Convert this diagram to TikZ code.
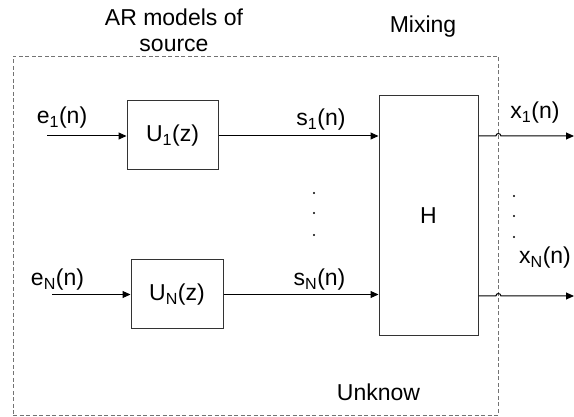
\documentclass[tikz,border=0pt]{standalone}
\usepackage{fontspec}
\setmainfont{Liberation Sans}
\usetikzlibrary{arrows.meta,calc}
\newcommand{\sbs}[1]{\textsubscript{#1}}
\begin{document}
\begin{tikzpicture}[x=1pt,y=-1pt,
  every node/.style={font=\fontsize{23}{26}\selectfont, inner sep=0pt},
  blockbox/.style={draw=black!80, line width=1pt, fill=white},
  sig/.style={line width=1pt, -{Triangle[length=8pt,width=7pt]}},
  frame/.style={draw=black!55, line width=0.8pt, dash pattern=on 4pt off 2.5pt},
  lbl/.style={anchor=center}]
\useasboundingbox (0,0) rectangle (574,417);
% dashed frame
\node[frame, minimum width=485pt, minimum height=359pt] (frm) at (255.5,235.5) {};
% blocks
\node[blockbox, minimum width=91pt, minimum height=69pt] (U1) at (172.5,135.5) {U\sbs{1}(z)};
\node[blockbox, minimum width=92pt, minimum height=69pt] (UN) at (177,294.5) {U\sbs{N}(z)};
\node[blockbox, minimum width=99pt, minimum height=240pt] (H) at (428.5,216) {H};
% input coordinates
\coordinate (e1) at (47,136);
\coordinate (eN) at (52,294.5);
\coordinate (o1) at (574,136);
\coordinate (oN) at (574,296);
% connectors
\draw[sig] (e1) -- (U1.west |- e1);
\draw[sig] (eN) -- (UN.west |- eN);
\draw[sig] (U1.east |- e1) -- (H.west |- e1);
\draw[sig] (UN.east |- eN) -- (H.west |- eN);
\draw[sig] (H.east |- o1) -- ($(frm.east |- o1)+(-2.5,0)$) arc[start angle=180,end angle=360,radius=2.5] -- (o1);
\draw[sig] (H.east |- oN) -- ($(frm.east |- oN)+(-2.5,0)$) arc[start angle=180,end angle=360,radius=2.5] -- (oN);
% labels
\node[lbl] (le1) at (62,118) {e\sbs{1}(n)};
\node[lbl] (leN) at (57.5,280) {e\sbs{N}(n)};
\node[lbl] (ls1) at (321,120) {s\sbs{1}(n)};
\node[lbl] (lsN) at (319.5,280) {s\sbs{N}(n)};
\node[lbl] (lx1) at (535,113) {x\sbs{1}(n)};
\node[lbl] (lxN) at (545,258) {x\sbs{N}(n)};
\node[align=center, anchor=center] (ar) at (174,30) {AR models of\\source};
\node[anchor=base] (mix) at (423,33) {Mixing};
\node[anchor=base] (unk) at (378.5,400) {Unknow};
% dots
\foreach \y in {193,213,235} \fill (314,\y) circle (1.1pt);
\foreach \y in {196,216,237} \fill (514,\y) circle (1.1pt);
\end{tikzpicture}
\end{document}
